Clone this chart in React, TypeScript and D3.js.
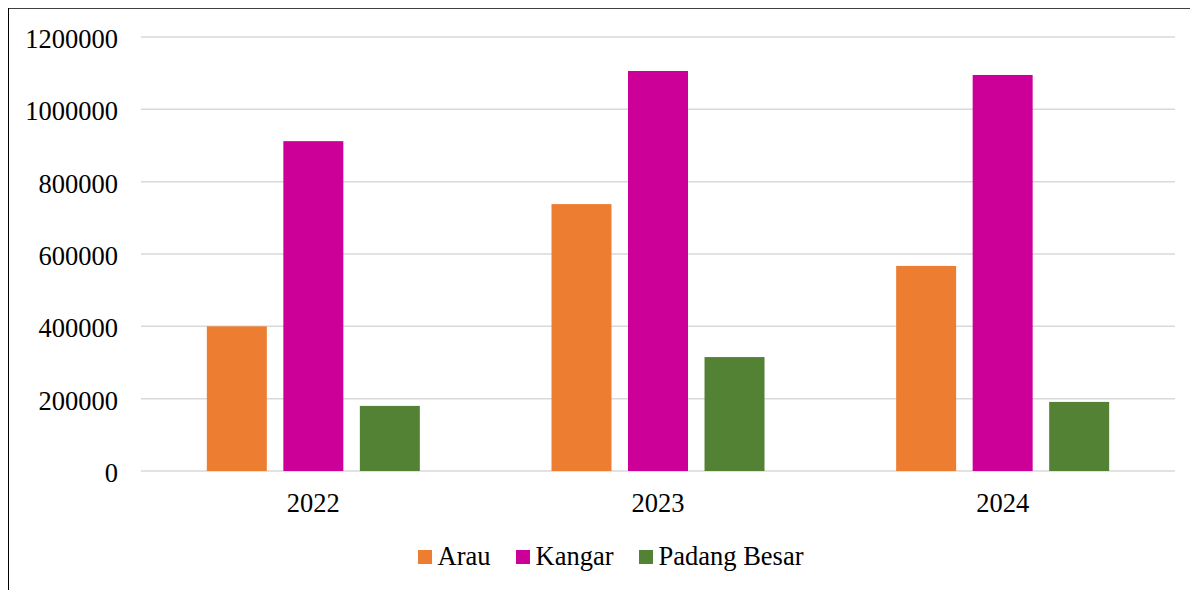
import * as d3 from "d3";

const years = ["2022", "2023", "2024"];
const seriesNames = ["Arau", "Kangar", "Padang Besar"];
const arau = [400000, 738000, 567000];
const kangar = [912000, 1106000, 1095000];
const padangBesar = [180000, 315000, 191000];
const yTicks = [0, 200000, 400000, 600000, 800000, 1000000, 1200000];

const colors = ["#ED7D31", "#CC0099", "#548235"];
const seriesValues = [arau, kangar, padangBesar];

const W = 1192;
const H = 584;
const font = "'Liberation Serif', 'Times New Roman', serif";

const App = () => {
  // work in page coordinates, svg sits at (6,6) on the page
  const x0 = d3.scaleBand().domain(years).range([141, 1175]);
  const groupPad = 0.191 * x0.bandwidth();
  const x1 = d3
    .scaleBand()
    .domain(seriesNames)
    .range([groupPad, x0.bandwidth() - groupPad])
    .paddingInner(0.216)
    .paddingOuter(0);
  const y = d3.scaleLinear().domain([0, 1200000]).range([471, 37]);

  const legendX = [418, 516, 639];

  return (
    <svg width={W} height={H} style={{ display: "block", margin: "-2px 0 0 -2px" }}>
      <g transform="translate(-6,-6)">
        <rect x={0} y={0} width={1198} height={590} fill="#fff" />
        {/* chart frame, right and bottom fall outside the picture */}
        <line x1={7.6} x2={7.6} y1={6.5} y2={590} stroke="#000" strokeWidth={2.8} />
        <line x1={6.5} x2={1198} y1={7.7} y2={7.7} stroke="#000" strokeWidth={2.2} />

        {yTicks.map((t) => (
          <g key={t}>
            <line
              x1={141}
              x2={1175}
              y1={y(t)}
              y2={y(t)}
              stroke="#d9d9d9"
              strokeWidth={1.5}
            />
            <text
              x={118}
              y={y(t) + 2}
              dy="0.34em"
              textAnchor="end"
              fontFamily={font}
              fontSize={26.5}
              fill="#000"
            >
              {t}
            </text>
          </g>
        ))}

        {years.map((yr, i) => (
          <g key={yr} transform={`translate(${x0(yr)},0)`}>
            {seriesNames.map((s, j) => (
              <rect
                key={s}
                x={x1(s)}
                y={y(seriesValues[j][i])}
                width={x1.bandwidth()}
                height={y(0) - y(seriesValues[j][i])}
                fill={colors[j]}
              />
            ))}
            <text
              x={x0.bandwidth() / 2}
              y={511.5}
              textAnchor="middle"
              fontFamily={font}
              fontSize={26.5}
              fill="#000"
            >
              {yr}
            </text>
          </g>
        ))}

        {seriesNames.map((s, j) => (
          <g key={s}>
            <rect x={legendX[j]} y={550} width={14} height={14} fill={colors[j]} />
            <text
              x={legendX[j] + 19.5}
              y={565}
              fontFamily={font}
              fontSize={26.5}
              fill="#000"
            >
              {s}
            </text>
          </g>
        ))}
      </g>
    </svg>
  );
};

export default App;
